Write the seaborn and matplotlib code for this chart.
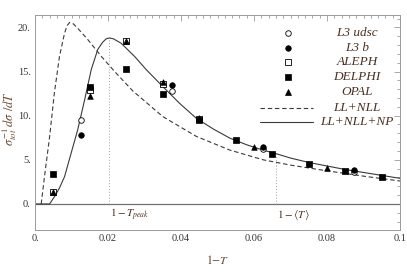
import matplotlib
matplotlib.use("Agg")
import matplotlib.pyplot as plt
import seaborn as sns
import numpy as np
from matplotlib.ticker import MultipleLocator

# ---------------- data ----------------
delphi_x = [0.005, 0.015, 0.025, 0.035, 0.045, 0.055, 0.065, 0.075, 0.085, 0.095]
delphi_y = [3.4, 13.3, 15.3, 12.4, 9.5, 7.2, 5.65, 4.55, 3.7, 3.1]

aleph_x = [0.005, 0.015, 0.025, 0.035, 0.045]
aleph_y = [1.3, 12.9, 18.5, 13.6, 9.6]

opal_x = [0.005, 0.015, 0.025, 0.035, 0.045, 0.06, 0.08]
opal_y = [1.3, 12.2, 18.4, 13.8, 9.7, 6.45, 4.1]

l3udsc_x = [0.0125, 0.0375, 0.0625, 0.0875]
l3udsc_y = [9.5, 12.8, 6.2, 3.65]

l3b_x = [0.0125, 0.0375, 0.0625, 0.0875]
l3b_y = [7.8, 13.45, 6.5, 3.85]

np_x = [0.0, 0.004, 0.0053, 0.0067, 0.0081, 0.0099, 0.0117, 0.0136, 0.0154,
        0.0172, 0.0185, 0.0195, 0.0204, 0.0215, 0.0236, 0.0273, 0.0305, 0.035,
        0.0396, 0.0442, 0.0488, 0.0534, 0.058, 0.0625, 0.066, 0.07, 0.075,
        0.085, 0.0925, 0.1]
np_y = [0.0, 0.0, 0.8, 1.8, 3.1, 5.75, 8.4, 11.8, 15.2,
        17.5, 18.3, 18.7, 18.8, 18.7, 18.2, 16.7, 15.2, 13.3,
        11.4, 9.7, 8.5, 7.45, 6.7, 6.1, 5.7, 5.2, 4.7,
        3.9, 3.4, 2.9]

nll_x = [0.0017, 0.0026, 0.004, 0.0053, 0.0067, 0.0081, 0.0088, 0.0095,
         0.0105, 0.0117, 0.0145, 0.0182, 0.0218, 0.0268, 0.035, 0.0442,
         0.0534, 0.0625, 0.07, 0.08, 0.09, 0.1]
nll_y = [0.0, 3.1, 7.6, 12.55, 16.7, 19.35, 20.2, 20.56,
         20.4, 19.9, 18.6, 16.7, 15.0, 12.8, 9.9, 7.65,
         6.1, 5.0, 4.4, 3.75, 3.15, 2.6]

x_peak = 0.0204
y_peak = 18.8
x_mean = 0.066
y_mean = 5.7

xticks = [0.0, 0.02, 0.04, 0.06, 0.08, 0.1]
xtick_labels = ["0.", "0.02", "0.04", "0.06", "0.08", "0.1"]
yticks = [0, 5, 10, 15, 20]
ytick_labels = ["0.", "5.", "10.", "15.", "20."]

legend_labels = ["L3 udsc", "L3 b", "ALEPH", "DELPHI", "OPAL", "LL+NLL", "LL+NLL+NP"]

# ---------------- style ----------------
sns.set_style("white")
plt.rcParams["font.family"] = ["Liberation Serif", "DejaVu Serif"]
plt.rcParams["mathtext.fontset"] = "stix"

fig = plt.figure(figsize=(4.07, 2.73), dpi=100)
ax = fig.add_axes([35 / 407, 1 - 230 / 273, 365 / 407, 215 / 273])

curve_col = "#3a3a3a"
frame_col = "#9a9a9a"
text_col = "#4a3020"
label_col = "#6b4a30"

# reference lines
ax.axhline(0, color="#707070", lw=0.9, zorder=1)
ax.plot([x_peak, x_peak], [0, y_peak], color="#a0a0a0", lw=0.7, ls=(0, (1, 2)), zorder=1)
ax.plot([x_mean, x_mean], [0, y_mean], color="#a0a0a0", lw=0.7, ls=(0, (1, 2)), zorder=1)

# curves
sns.lineplot(x=nll_x, y=nll_y, ax=ax, color=curve_col, lw=0.8,
             linestyle=(0, (4, 2.5)), sort=False, estimator=None, zorder=2)
sns.lineplot(x=np_x, y=np_y, ax=ax, color=curve_col, lw=0.8,
             sort=False, estimator=None, zorder=2)

ms = 16
sns.scatterplot(x=aleph_x, y=aleph_y, ax=ax, marker="s", color="white",
                edgecolor="black", linewidth=0.6, s=ms + 4, zorder=3)
sns.scatterplot(x=delphi_x, y=delphi_y, ax=ax, marker="s", color="black",
                edgecolor="black", linewidth=0.5, s=ms, zorder=4)
sns.scatterplot(x=opal_x, y=opal_y, ax=ax, marker="^", color="black",
                edgecolor="black", linewidth=0.5, s=ms, zorder=5)
sns.scatterplot(x=l3udsc_x, y=l3udsc_y, ax=ax, marker="o", color="white",
                edgecolor="black", linewidth=0.6, s=ms, zorder=3)
sns.scatterplot(x=l3b_x, y=l3b_y, ax=ax, marker="o", color="black",
                edgecolor="black", linewidth=0.5, s=ms, zorder=4)

# axes
ax.set_xlim(0, 0.1)
ax.set_ylim(-2.95, 21.4)
ax.set_xticks(xticks)
ax.set_xticklabels(xtick_labels)
ax.set_yticks(yticks)
ax.set_yticklabels(ytick_labels)
ax.xaxis.set_minor_locator(MultipleLocator(0.002))
ax.yaxis.set_minor_locator(MultipleLocator(1))
ax.tick_params(which="both", direction="in", top=True, right=True,
               color=frame_col, width=0.6, labelsize=7.5, labelcolor="#333333", pad=3)
ax.tick_params(which="major", length=4)
ax.tick_params(which="minor", length=2)
for sp in ax.spines.values():
    sp.set_color(frame_col)
    sp.set_linewidth(0.7)

ax.set_xlabel("$\\mathit{1}$$-$$\\mathit{T}$", fontsize=8.5, color=label_col, labelpad=8)
ax.set_ylabel("$\\sigma_{tot}^{-1}\\, d\\sigma\\ /dT$", fontsize=9, color=label_col)
ax.yaxis.set_label_coords(-0.044, 0.52)

# annotations
ax.text(x_peak + 0.0002, -1.25, "$\\mathit{1}-T_{peak}$", fontsize=8, color=text_col,
        ha="left", va="center")
ax.text(x_mean + 0.0004, -1.25, "$\\mathit{1}-\\langle T\\rangle$", fontsize=8, color=text_col,
        ha="left", va="center")

# legend (drawn manually)
rows = [0.916, 0.847, 0.781, 0.712, 0.642, 0.567, 0.502]
mx = 0.693
tx = 0.882
tr = ax.transAxes
ax.plot([mx], [rows[0]], transform=tr, marker="o", ms=4, mfc="white", mec="black", mew=0.6, ls="none")
ax.plot([mx], [rows[1]], transform=tr, marker="o", ms=4, mfc="black", mec="black", mew=0.5, ls="none")
ax.plot([mx], [rows[2]], transform=tr, marker="s", ms=4, mfc="white", mec="black", mew=0.6, ls="none")
ax.plot([mx], [rows[3]], transform=tr, marker="s", ms=4, mfc="black", mec="black", mew=0.5, ls="none")
ax.plot([mx], [rows[4]], transform=tr, marker="^", ms=4, mfc="black", mec="black", mew=0.5, ls="none")
ax.plot([0.616, 0.762], [rows[5], rows[5]], transform=tr, color=curve_col, lw=0.8, ls=(0, (4, 2.5)))
ax.plot([0.616, 0.762], [rows[6], rows[6]], transform=tr, color=curve_col, lw=0.8)
for r, lab in zip(rows, legend_labels):
    ax.text(tx, r, lab, transform=tr, fontsize=9.5, style="italic", color=text_col,
            ha="center", va="center")

fig.savefig("out.png", dpi=100)
